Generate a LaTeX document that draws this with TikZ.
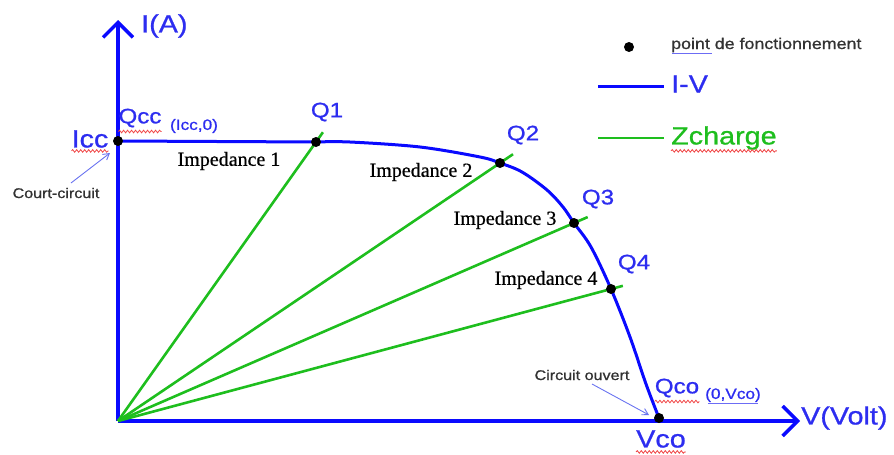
\documentclass[tikz,border=0pt]{standalone}
\usepackage{fontspec}
\setmainfont[FakeBold=0.6]{Liberation Serif}
\newfontfamily\lbl[FakeStretch=1.15,FakeBold=0.9]{Liberation Sans}
\usetikzlibrary{arrows.meta,calc,decorations.pathmorphing}

\definecolor{axisblue}{RGB}{10,10,255}
\definecolor{labelblue}{RGB}{45,45,240}
\definecolor{loadgreen}{RGB}{30,190,30}
\definecolor{notegray}{RGB}{50,50,50}
\definecolor{pointerblue}{RGB}{105,115,240}
\definecolor{spellred}{RGB}{240,70,70}

\tikzset{
  axis/.style={axisblue, line width=3.5pt, -{Straight Barb[length=15pt,width=30pt]}},
  ivcurve/.style={axisblue, line width=3pt},
  loadline/.style={loadgreen, line width=2.6pt},
  oppoint/.style={circle, fill=black, inner sep=0pt, minimum size=10pt},
  qlabel/.style={text=labelblue, inner sep=0pt, font=\lbl\fontsize{21}{21}\selectfont},
  biglabel/.style={text=labelblue, inner sep=0pt, font=\lbl\fontsize{25}{25}\selectfont},
  smallcoord/.style={text=labelblue, inner sep=0pt, font=\lbl\fontsize{15}{15}\selectfont},
  imp/.style={inner sep=0pt, font=\fontsize{20}{20}\selectfont},
  note/.style={text=notegray, inner sep=0pt, font=\lbl\fontsize{14}{14}\selectfont},
  pointer/.style={pointerblue, line width=0.9pt, -{Straight Barb[length=6pt,width=7pt]}},
  spell/.style={spellred, line width=0.8pt, decorate,
    decoration={snake, amplitude=1.3pt, segment length=4pt}},
  linkline/.style={labelblue!70, line width=0.8pt}
}

\begin{document}
\begin{tikzpicture}[x=1pt, y=-1pt]
\useasboundingbox (0,0) rectangle (894,455);

% axes
\coordinate (O) at (118,421);
\coordinate (Itop) at (118,20);
\coordinate (Vend) at (800,421);
\draw[axis] (O) -- (Itop);
\draw[axis] (O) -- (Vend);
\node[biglabel, anchor=west] (ilab) at (141,26) {I(A)};
\node[biglabel, anchor=west] (vlab) at (801,418) {V(Volt)};

% operating points
\coordinate (Pcc) at (118,141);
\coordinate (Q1) at (316,142);
\coordinate (Q2) at (500,163);
\coordinate (Q3) at (574,223);
\coordinate (Q4) at (611,289);
\coordinate (Qco) at (659,418);

% load lines
\draw[loadline] (O) -- ($(O)!1.035!(Q1)$);
\draw[loadline] (O) -- ($(O)!1.034!(Q2)$);
\draw[loadline] (O) -- ($(O)!1.03!(Q3)$);
\draw[loadline] (O) -- ($(O)!1.024!(Q4)$);

% I-V characteristic
\draw[ivcurve] (Pcc) -- (Q1);
\draw[ivcurve] plot[smooth, tension=0.55] coordinates {
  (Q1) (350,142) (420,147) (480,157) (Q2) (522,172) (547,190) (563,207)
  (Q3) (591,247) (Q4) (630,337) (646,384) (Qco)};

\foreach \p in {Pcc,Q1,Q2,Q3,Q4,Qco}
  \node[oppoint] (dot\p) at (\p) {};

% point labels
\node[biglabel] (icc) at (90,139) {Icc};
\node[qlabel] (qcc) at (140,118) {Qcc};
\node[smallcoord] (icc0) at (194,126) {(Icc,0)};
\node[qlabel] (q1) at (327,112) {Q1};
\node[qlabel] (q2) at (523,135) {Q2};
\node[qlabel] (q3) at (598,199) {Q3};
\node[qlabel] (q4) at (634,264) {Q4};
\node[qlabel] (qco) at (677,388) {Qco};
\node[smallcoord] (zerovco) at (733,395) {(0,Vco)};
\node[biglabel] (vco) at (661,439) {Vco};

% impedance labels
\node[imp] (imp1) at (229,161) {Impedance 1};
\node[imp] (imp2) at (421,172) {Impedance 2};
\node[imp] (imp3) at (505,220) {Impedance 3};
\node[imp] (imp4) at (546,280) {Impedance 4};

% notes with pointers
\node[note] (cc) at (56,193) {Court-circuit};
\coordinate (ccTail) at (71,183);
\coordinate (ccTip) at (110,153);
\draw[pointer] (ccTail) -- (ccTip);
\node[note] (co) at (582,375) {Circuit ouvert};
\coordinate (coTail) at (592,384);
\coordinate (coTip) at (649,415);
\draw[pointer] (coTail) -- (coTip);

% legend
\node[oppoint] (legdot) at (629,47) {};
\node[note, anchor=west, font=\lbl\fontsize{15.5}{15.5}\selectfont] (legpt) at (671,45) {point de fonctionnement};
\coordinate (ivA) at (598,86);
\coordinate (ivB) at (664,86);
\draw[ivcurve] (ivA) -- (ivB);
\node[biglabel, anchor=west] (legiv) at (671,84) {I-V};
\coordinate (zA) at (598,138);
\coordinate (zB) at (664,138);
\draw[loadline] (zA) -- (zB);
\node[biglabel, anchor=west, text=loadgreen] (legz) at (671,138) {Zcharge};

% proofing marks under words
\draw[spell] ($(icc.south west)+(0,3)$) -- ($(icc.south east)+(0,3)$);
\draw[spell] ($(qcc.south west)+(0,4)$) -- ($(qcc.south east)+(0,4)$);
\draw[spell] ($(qco.south west)+(0,4)$) -- ($(qco.south east)+(0,4)$);
\draw[spell] ($(vco.south west)+(0,4)$) -- ($(vco.south east)+(0,4)$);
\draw[spell] ($(legz.south west)+(0,1)$) -- ($(legz.south east)+(0,1)$);
\draw[linkline] (672,53) -- (712,53);
\draw[linkline] ($(zerovco.south west)+(3,1)$) -- ($(zerovco.south east)+(-3,1)$);
\end{tikzpicture}
\end{document}
